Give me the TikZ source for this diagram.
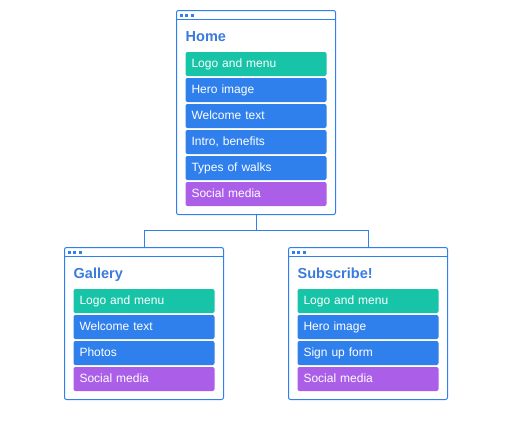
\documentclass[tikz,border=0pt]{standalone}
\usepackage{fontspec}
\setmainfont{Liberation Sans}
\usetikzlibrary{calc}
\definecolor{wblue}{HTML}{2F80ED}
\definecolor{tblue}{HTML}{3A7BE0}
\definecolor{igreen}{HTML}{18C4A7}
\definecolor{iblue}{HTML}{2F80ED}
\definecolor{ipurple}{HTML}{AB5FE9}
\begin{document}
\begin{tikzpicture}[x=1pt,y=-1pt,
  win/.style={draw=wblue, line width=1pt, fill=white, rounded corners=2pt,
    minimum width=159pt, inner sep=0pt, outer sep=0pt, anchor=north west},
  wline/.style={draw=wblue, line width=1pt},
  dot/.style={fill=wblue},
  ttl/.style={text=tblue, font=\fontsize{14.5}{16}\selectfont\bfseries, inner sep=0pt, anchor=base west},
  item/.style={rounded corners=2pt, text=white, font=\fontsize{12}{13}\selectfont,
    minimum width=141pt, minimum height=24pt, text width=129pt, inner xsep=6pt, inner ysep=0pt,
    text height=9.4pt, text depth=2pt,
    outer sep=0pt, anchor=north west, align=left},
  ig/.style={item, fill=igreen},
  ib/.style={item, fill=iblue},
  ip/.style={item, fill=ipurple}
]
\useasboundingbox (0,0) rectangle (513,431);
% windows
\node[win, minimum height=204pt] (home) at (176.5,10.5) {};
\node[win, minimum height=152pt] (gallery) at (64.5,247.5) {};
\node[win, minimum height=152pt] (subs) at (288.5,247.5) {};
% connectors
\draw[wline] (home.south) -- ++(0,16) -| (gallery.north);
\draw[wline] (home.south) -- ++(0,16) -| (subs.north);
% headers
\foreach \w in {home,gallery,subs}{
  \draw[wline] ($(\w.north west)+(0,9)$) -- ($(\w.north east)+(0,9)$);
  \foreach \i in {0,1,2}{
    \fill[dot] ($(\w.north west)+(3.2+\i*5.6,3.3)$) rectangle ++(2.8,2.8);
  }
}
% Home
\node[ttl] (homet) at (185.5,41) {Home};
\node[ig] (h1) at (185.5,52) {Logo and menu};
\node[ib] (h2) at (185.5,78) {Hero image};
\node[ib] (h3) at (185.5,104) {Welcome text};
\node[ib] (h4) at (185.5,130) {Intro, benefits};
\node[ib] (h5) at (185.5,156) {Types of walks};
\node[ip] (h6) at (185.5,182) {Social media};
% Gallery
\node[ttl] (galt) at (73.5,278.5) {Gallery};
\node[ig] (g1) at (73.5,289) {Logo and menu};
\node[ib] (g2) at (73.5,315) {Welcome text};
\node[ib] (g3) at (73.5,341) {Photos};
\node[ip] (g4) at (73.5,367) {Social media};
% Subscribe
\node[ttl] (subt) at (297.5,278.5) {Subscribe!};
\node[ig] (s1) at (297.5,289) {Logo and menu};
\node[ib] (s2) at (297.5,315) {Hero image};
\node[ib] (s3) at (297.5,341) {Sign up form};
\node[ip] (s4) at (297.5,367) {Social media};
\end{tikzpicture}
\end{document}
